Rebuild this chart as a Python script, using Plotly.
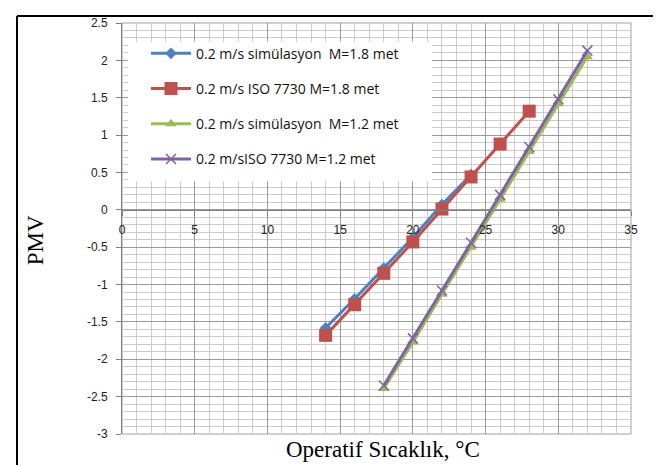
import plotly.graph_objects as go

x_blue = [14, 16, 18, 20, 22, 24]
y_blue = [-1.58, -1.19, -0.78, -0.37, 0.07, 0.47]
x_red = [14, 16, 18, 20, 22, 24, 26, 28]
y_red = [-1.68, -1.27, -0.85, -0.43, 0.01, 0.44, 0.88, 1.32]
x_green = [18, 20, 22, 24, 26, 28, 30, 32]
y_green = [-2.39, -1.77, -1.13, -0.50, 0.14, 0.78, 1.42, 2.05]
x_purple = [18, 20, 22, 24, 26, 28, 30, 32]
y_purple = [-2.35, -1.72, -1.08, -0.44, 0.20, 0.84, 1.48, 2.13]

names = [
    "0.2 m/s simülasyon\u00a0 M=1.8 met",
    "0.2 m/s ISO 7730 M=1.8 met",
    "0.2 m/s simülasyon\u00a0 M=1.2 met",
    "0.2 m/sISO 7730 M=1.2 met",
]
x_ticks = [0, 5, 10, 15, 20, 25, 30, 35]
y_ticks = [-3, -2.5, -2, -1.5, -1, -0.5, 0, 0.5, 1, 1.5, 2, 2.5]

fig = go.Figure()
fig.add_trace(go.Scatter(x=x_blue, y=y_blue, name=names[0], mode="lines+markers",
                         legendgroup="a",
                         line=dict(color="#4F81BD", width=3),
                         marker=dict(symbol="diamond", size=9, color="#4F81BD")))
fig.add_trace(go.Scatter(x=x_red, y=y_red, name=names[1], mode="lines+markers",
                         legendgroup="b",
                         line=dict(color="#C0504D", width=3),
                         marker=dict(symbol="square", size=13, color="#C0504D")))
fig.add_trace(go.Scatter(x=x_green, y=y_green, name=names[2], mode="lines+markers",
                         legendgroup="c",
                         line=dict(color="#9BBB59", width=3),
                         marker=dict(symbol="triangle-up", size=10, color="#9BBB59")))
fig.add_trace(go.Scatter(x=x_purple, y=y_purple, name=names[3], mode="lines+markers",
                         legendgroup="d",
                         line=dict(color="#8064A2", width=3),
                         marker=dict(symbol="x-thin-open", size=10,
                                     line=dict(color="#8064A2", width=1.5))))

tick_font = dict(family="Liberation Sans, Arial", size=12, color="#222")

def px(xp):
    return (xp - 122) / 509

def py(yp):
    return 1 - (yp - 16) / 418

# plot area on screen: x 122..631, y 16..434 (page has 8px body margin)
fig.update_layout(
    width=661, height=465,
    margin=dict(l=114, r=38, t=8, b=39),
    paper_bgcolor="white", plot_bgcolor="white",
    showlegend=True,
    legend=dict(x=px(146), y=py(31), xanchor="left", yanchor="top",
                bgcolor="rgba(0,0,0,0)", borderwidth=0,
                font=dict(family="Open Sans, Liberation Sans", size=14, color="#111"),
                tracegroupgap=14, itemwidth=40),
    xaxis=dict(range=[0, 35], tickvals=x_ticks, ticktext=[str(v) for v in x_ticks],
               anchor="free", position=3 / 5.5,
               showline=True, linecolor="#808080", linewidth=1,
               ticks="outside", ticklen=5, tickcolor="#808080",
               tickfont=tick_font, ticklabelstandoff=4,
               showgrid=True, gridcolor="#9a9a9a", gridwidth=1,
               minor=dict(dtick=1, showgrid=True, gridcolor="#cccccc", gridwidth=1, ticks=""),
               zeroline=False, mirror=False),
    yaxis=dict(range=[-3, 2.5], tickvals=y_ticks,
               ticktext=[("%g" % v) for v in y_ticks],
               showline=True, linecolor="#808080", linewidth=1,
               ticks="outside", ticklen=5, tickcolor="#808080",
               tickfont=tick_font, ticklabelstandoff=6,
               showgrid=True, gridcolor="#9a9a9a", gridwidth=1,
               minor=dict(dtick=0.1, showgrid=True, gridcolor="#cccccc", gridwidth=1, ticks=""),
               zeroline=False),
)

# white legend box over the grid
fig.add_shape(type="rect", xref="paper", yref="paper", x0=px(128), x1=px(432), y0=py(177), y1=py(35),
              fillcolor="white", line=dict(width=0), layer="above")
# plot frame (top/right)
fig.add_shape(type="rect", xref="paper", yref="paper", x0=0, y0=0, x1=1, y1=1,
              line=dict(color="#a0a0a0", width=1), layer="below")
# outer black frame of the figure
fig.add_shape(type="line", xref="paper", yref="paper", x0=px(17), x1=1.1, y0=py(9), y1=py(9),
              line=dict(color="black", width=2))
fig.add_shape(type="line", xref="paper", yref="paper", x0=px(17), x1=px(17), y0=-0.2, y1=py(9),
              line=dict(color="black", width=2))

fig.add_annotation(text="PMV", xref="paper", yref="paper",
                   x=px(35), y=py(237), textangle=-90, xanchor="center", yanchor="middle",
                   showarrow=False, font=dict(family="Liberation Serif, Times New Roman", size=23, color="black"))
fig.add_annotation(text="Operatif Sıcaklık, °C", xref="paper", yref="paper",
                   x=px(383), y=py(450), xanchor="center", yanchor="middle",
                   showarrow=False, font=dict(family="Liberation Serif, Times New Roman", size=23, color="black"))

fig.write_html("out.html")
